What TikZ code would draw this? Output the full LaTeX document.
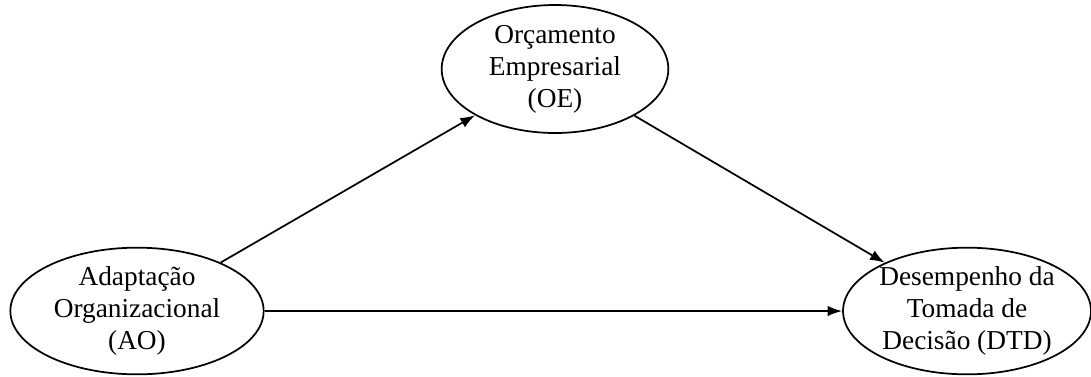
\documentclass[tikz,border=0pt]{standalone}
\usepackage{fontspec}
\setmainfont{Liberation Serif}
\usetikzlibrary{shapes.geometric,arrows.meta}
\tikzset{
  varbox/.style={ellipse,draw,line width=1.3pt,inner sep=0pt,align=center,
    font=\fontsize{20.5}{24}\selectfont},
  seta/.style={-{Latex[length=11pt,width=8pt]},line width=1.3pt}
}
\begin{document}
\begin{tikzpicture}[x=0.75pt,y=-0.75pt]
      		\useasboundingbox (0,0) rectangle (1091,376);
      		\node[varbox,minimum width=170pt,minimum height=96pt] (OE) at (555,69) {Orçamento\\Empresarial\\(OE)};
      		\node[varbox,minimum width=190pt,minimum height=95pt] (AO) at (137,311) {Adaptação\\Organizacional\\(AO)};
      		\node[varbox,minimum width=181pt,minimum height=95pt] (DTD) at (967,311) {Desempenho da\\Tomada de\\Decisão (DTD)};
      		\draw[seta] (AO) -- (DTD);
      		\draw[seta] (AO) -- (OE);
      		\draw[seta] (OE) -- (DTD);
    	\end{tikzpicture}
\end{document}
